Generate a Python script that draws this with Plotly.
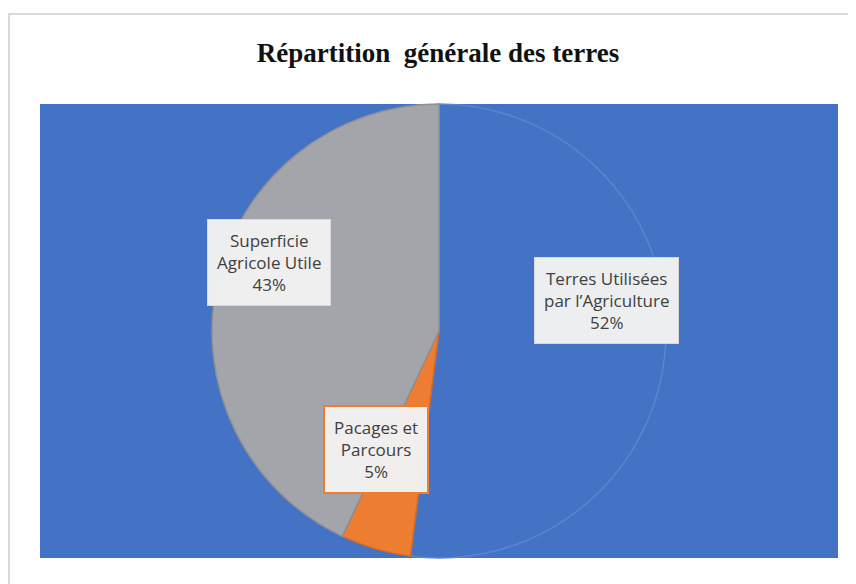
import plotly.graph_objects as go

categories = ["Terres Utilisées par l’Agriculture", "Pacages et Parcours", "Superficie Agricole Utile"]
display_labels = ["Terres Utilisées<br>par l’Agriculture", "Pacages et<br>Parcours", "Superficie<br>Agricole Utile"]
values = [52, 5, 43]
colors = ["#4472C4", "#ED7D31", "#A3A5AA"]
title_text = "Répartition  générale des terres"

# page body has an 8px margin, so the figure is drawn 8px in from the window edges
W, H = 848, 576
L, R, T, B = 32, 18, 96, 26
PW, PH = W - L - R, H - T - B

fig = go.Figure()
fig.add_trace(go.Pie(
    labels=categories, values=values, sort=False, direction="clockwise", rotation=0,
    marker=dict(colors=colors, line=dict(color=["#5A85D0", "#D06A25", "#8E9096"], width=1.5)),
    textinfo="none", hoverinfo="label+percent", showlegend=False,
    domain=dict(x=[0, 1], y=[0, 1]),
))

total = sum(values)
pos = [(0.7105, 0.568), (0.421, 0.238), (0.287, 0.650)]
borders = ["#D9D9D9", "#ED7D31", "#D9D9D9"]
bwidth = [1, 2, 1]
for lab, v, (px, py), bc, bw in zip(display_labels, values, pos, borders, bwidth):
    fig.add_annotation(
        x=px, y=py, xref="paper", yref="paper", xanchor="center", yanchor="middle", showarrow=False,
        text=f"{lab}<br>{round(v / total * 100)}%",
        font=dict(family="Open Sans, Liberation Sans, sans-serif", size=17, color="#404040"),
        bgcolor="rgba(242,242,242,0.97)", bordercolor=bc, borderwidth=bw, borderpad=9,
        align="center",
    )

# outer frame and blue plot area
fig.add_shape(type="rect", xref="paper", yref="paper",
              x0=(1 - L) / PW, x1=(W + 5 - L) / PW,
              y0=(H - B - H - 5) / PH, y1=(H - B - 6) / PH,
              line=dict(color="#D9D9D9", width=2), fillcolor="white", layer="below")
fig.add_shape(type="rect", xref="paper", yref="paper", x0=0, x1=1, y0=0, y1=1,
              line=dict(width=0), fillcolor="#4472C4", layer="below")

fig.update_layout(
    width=W, height=H,
    margin=dict(l=L, r=R, t=T, b=B),
    paper_bgcolor="white",
    title=dict(text=f"<b>{title_text}</b>", x=(438 - 8) / W, xanchor="center", y=1 - 45 / H, yanchor="middle",
               font=dict(family="Liberation Serif, Times New Roman, serif", size=27, color="#111111")),
)

fig.write_html("out.html")
